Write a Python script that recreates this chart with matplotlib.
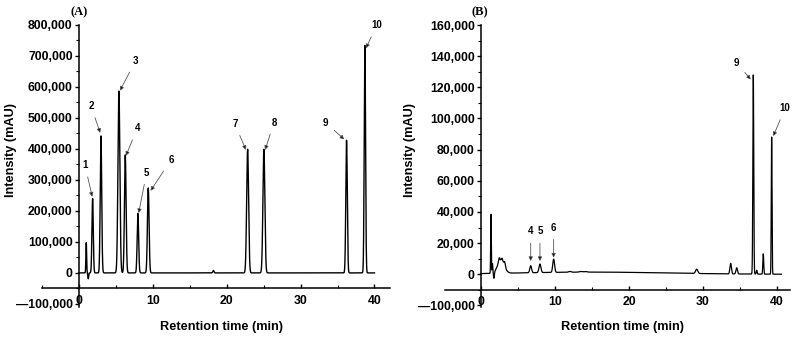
import numpy as np
import matplotlib
matplotlib.use('Agg')
import matplotlib.pyplot as plt
import matplotlib.ticker as ticker

plt.rcParams['font.family'] = ['Liberation Sans', 'DejaVu Sans']
plt.rcParams['font.weight'] = 'bold'

# Peak tables: retention time (min), height (mAU), width (sigma, min)
peaks_a_time = [0.99, 1.26, 1.85, 2.98, 5.41, 6.27, 7.98, 9.38, 18.2, 22.83, 25.03, 36.22, 38.7]
peaks_a_height = [98000, -19000, 240000, 442000, 587000, 381000, 192000, 274000, 8000,
                  399000, 399000, 428000, 734000]
peaks_a_width = [0.05, 0.05, 0.09, 0.1, 0.13, 0.11, 0.1, 0.11, 0.08, 0.13, 0.13, 0.1, 0.09]
run_a_end = 40.0

peaks_b_time = [1.35, 1.55, 1.75, 2.7, 2.45, 2.85, 3.2, 15.0, 6.72, 7.97, 9.82, 12.0, 13.5,
                14.1, 29.15, 33.74, 34.55, 36.8, 37.26, 38.15, 39.28]
peaks_b_height = [38000, 6000, -4000, 8000, 3000, 2000, 3000, 1400, 4500, 5500, 8500, 500, 400,
                  400, 2800, 6800, 4000, 128000, 2500, 13000, 88000]
peaks_b_width = [0.04, 0.05, 0.06, 0.45, 0.1, 0.1, 0.1, 10.0, 0.12, 0.13, 0.12, 0.15, 0.2,
                 0.2, 0.15, 0.1, 0.1, 0.06, 0.06, 0.06, 0.05]
run_b_end = 40.6

# peak labels: (label, arrow tip time, tip height, text time, text height)
labels_a = ['1', '2', '3', '4', '5', '6', '7', '8', '9', '10']
tips_a_t = [1.8, 2.88, 5.55, 6.36, 8.08, 9.7, 22.6, 25.2, 35.9, 38.84]
tips_a_y = [246000, 452000, 588000, 378000, 193000, 265000, 397000, 397000, 431000, 725000]
text_a_t = [0.81, 1.62, 7.67, 7.89, 9.16, 12.45, 21.1, 26.4, 33.4, 40.3]
text_a_y = [348000, 539000, 685000, 467000, 324000, 365000, 481000, 485000, 485000, 799000]

labels_b = ['4', '5', '6', '9', '10']
tips_b_t = [6.72, 7.97, 9.82, 36.45, 39.5]
tips_b_y = [8500, 8500, 10700, 125000, 88700]
text_b_t = [6.72, 7.97, 9.82, 34.55, 41.1]
text_b_y = [27600, 27600, 30000, 135900, 106600]

yticks_a = [-100000, 0, 100000, 200000, 300000, 400000, 500000, 600000, 700000, 800000]
ylabels_a = ['—100,000', '0', '100,000', '200,000', '300,000', '400,000', '500,000',
             '600,000', '700,000', '800,000']
yticks_b = [-20000, 0, 20000, 40000, 60000, 80000, 100000, 120000, 140000, 160000]
ylabels_b = ['—100,000', '0', '20,000', '40,000', '60,000', '80,000', '100,000',
             '120,000', '140,000', '160,000']
xticks = [0, 10, 20, 30, 40]


def trace(t, times, heights, widths):
    y = np.zeros_like(t)
    for c, h, w in zip(times, heights, widths):
        y += h * np.exp(-0.5 * ((t - c) / w) ** 2)
    return y


fig = plt.figure(figsize=(7.99, 3.37), dpi=100)
axA = fig.add_axes([42 / 799, 30 / 337, 348 / 799, 282 / 337])
axB = fig.add_axes([445 / 799, 30 / 337, 345 / 799, 282 / 337])

tA = np.linspace(0, run_a_end, 6000)
tB = np.linspace(0, run_b_end, 6000)
axA.plot(tA, trace(tA, peaks_a_time, peaks_a_height, peaks_a_width), color='black', lw=1.0)
axB.plot(tB, trace(tB, peaks_b_time, peaks_b_height, peaks_b_width), color='black', lw=0.9)

setups = [
    (axA, (-5.0, 42.1), (-110000, 800000), -50000, yticks_a, ylabels_a, 50000,
     labels_a, tips_a_t, tips_a_y, text_a_t, text_a_y, -0.072),
    (axB, (-4.86, 41.76), (-21000, 160000), -10000, yticks_b, ylabels_b, 10000,
     labels_b, tips_b_t, tips_b_y, text_b_t, text_b_y, -0.085),
]
for ax, xl, yl, xaxis_at, yt, ylab, minor, labs, tt, ty, xt, yt2, ylab_x in setups:
    ax.set_xlim(*xl)
    ax.set_ylim(*yl)
    for s in ['top', 'right']:
        ax.spines[s].set_visible(False)
    ax.spines['left'].set_position(('data', 0))
    ax.spines['bottom'].set_position(('data', xaxis_at))
    ax.spines['left'].set_linewidth(1.1)
    ax.spines['bottom'].set_linewidth(1.1)
    ax.yaxis.set_major_locator(ticker.FixedLocator(yt))
    ax.set_yticklabels(ylab)
    ax.yaxis.set_minor_locator(ticker.MultipleLocator(minor))
    ax.set_xticks(xticks)
    ax.xaxis.set_minor_locator(ticker.MultipleLocator(5))
    ax.tick_params(axis='y', which='major', direction='out', length=3, width=1, pad=1.5,
                   labelsize=8.8)
    ax.tick_params(axis='y', which='minor', direction='out', length=2, width=0.8)
    ax.tick_params(axis='x', which='major', direction='in', length=3, width=1, pad=4.5,
                   labelsize=8.8)
    ax.tick_params(axis='x', which='minor', direction='in', length=2, width=0.8)
    ax.set_xlabel('Retention time (min)', fontsize=9.2, fontweight='bold')
    ax.xaxis.set_label_coords(0.515, -0.048)
    ax.set_ylabel('Intensity (mAU)', fontsize=9.2, fontweight='bold')
    ax.yaxis.set_label_coords(ylab_x, 0.557)
    for lab, a, b, c, d in zip(labs, tt, ty, xt, yt2):
        ax.annotate(lab, xy=(a, b), xytext=(c, d), fontsize=7, fontweight='bold',
                    ha='center', va='center',
                    arrowprops=dict(arrowstyle='-|>', ec='#555555', fc='black', lw=0.6,
                                    mutation_scale=6, shrinkA=3, shrinkB=0))

fig.text(79 / 799, 1 - 12 / 337, '(A)', family='Liberation Serif', fontweight='bold',
         fontsize=9, ha='center', va='center')
fig.text(480 / 799, 1 - 12 / 337, '(B)', family='Liberation Serif', fontweight='bold',
         fontsize=9, ha='center', va='center')

plt.savefig('out.png', dpi=100)
